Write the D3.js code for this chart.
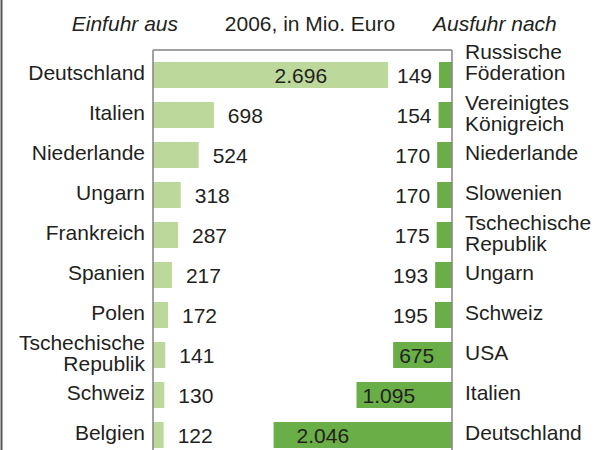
<!DOCTYPE html>
<html><head><meta charset="utf-8">
<script src="https://cdn.jsdelivr.net/npm/d3@7"></script>
<style>body{margin:0;background:#fff}svg{display:block}text{font-family:"Liberation Sans",Arial,sans-serif;fill:#231f20}</style>
</head><body><svg id="c" width="595" height="450"></svg>
<script>
(function(){
const importCountries = ["Deutschland","Italien","Niederlande","Ungarn","Frankreich","Spanien","Polen","Tschechische\nRepublik","Schweiz","Belgien"];
const importValues = [2696,698,524,318,287,217,172,141,130,122];
const exportCountries = ["Russische\nFöderation","Vereinigtes\nKönigreich","Niederlande","Slowenien","Tschechische\nRepublik","Ungarn","Schweiz","USA","Italien","Deutschland"];
const exportValues = [149,154,170,170,175,193,195,675,1095,2046];
const titles = ["Einfuhr aus","2006, in Mio. Euro","Ausfuhr nach"];

const svg = d3.select("#c");
const fs = 21;
const loc = d3.formatLocale({decimal:",",thousands:".",grouping:[3],currency:["","€"]});
const fmt = loc.format(",d");

const leftX = 153, rightX = 452, topY = 50;
const xL = d3.scaleLinear().domain([0,3000]).range([leftX, leftX+261.6]);
const xR = d3.scaleLinear().domain([0,3000]).range([rightX, rightX-261.6]);
const y = d3.scaleBand().domain(d3.range(importValues.length)).range([55,455]).paddingInner(0.35).paddingOuter(0.175);
const cy = i => y(i) + y.bandwidth()/2;

svg.append("line").attr("x1",1.5).attr("x2",1.5).attr("y1",0).attr("y2",450).attr("stroke","#555").attr("stroke-width",2);

svg.append("text").attr("x",178).attr("y",31).attr("text-anchor","end").attr("font-style","italic").attr("font-size",fs).text(titles[0]);
svg.append("text").attr("x",310).attr("y",31).attr("text-anchor","middle").attr("font-size",fs).text(titles[1]);
svg.append("text").attr("x",433).attr("y",31).attr("text-anchor","start").attr("font-style","italic").attr("font-size",fs).text(titles[2]);

svg.selectAll(".bl").data(importValues).join("rect").attr("class","bl")
  .attr("x",xL(0)).attr("y",(d,i)=>y(i)).attr("width",d=>xL(d)-xL(0)).attr("height",y.bandwidth()).attr("fill","#bdd89b");
svg.selectAll(".br").data(exportValues).join("rect").attr("class","br")
  .attr("x",d=>xR(d)).attr("y",(d,i)=>y(i)).attr("width",d=>xR(0)-xR(d)).attr("height",y.bandwidth()).attr("fill","#6aae47");

svg.append("line").attr("x1",leftX).attr("x2",rightX).attr("y1",topY).attr("y2",topY).attr("stroke","#444").attr("stroke-width",1.2);
svg.append("line").attr("x1",leftX).attr("x2",leftX).attr("y1",topY).attr("y2",450).attr("stroke","#8a8a8a").attr("stroke-width",1.6);
svg.append("line").attr("x1",rightX).attr("x2",rightX).attr("y1",topY).attr("y2",450).attr("stroke","#8a8a8a").attr("stroke-width",1.6);

svg.selectAll(".vl").data(importValues).join("text").attr("class","vl").attr("font-size",fs)
  .attr("y",(d,i)=>cy(i)+8)
  .attr("x",d=> d>2000 ? xL(d)-61 : xL(d)+14)
  .attr("text-anchor",d=> d>2000 ? "end":"start")
  .text(d=>fmt(d));
svg.selectAll(".vr").data(exportValues).join("text").attr("class","vr").attr("font-size",fs)
  .attr("y",(d,i)=>cy(i)+8)
  .attr("x",d=> d>2000 ? xR(d)+23 : d>600 ? xR(d)+6 : xR(d)-7)
  .attr("text-anchor",d=> d>600 ? "start":"end")
  .text(d=>fmt(d));

function names(arr, x, anchor, firstUp){
  arr.forEach((s,i)=>{
    const lines = s.split("\n");
    const t = svg.append("text").attr("font-size",fs).attr("text-anchor",anchor);
    let base = lines.length>1 ? (firstUp && i===0 ? cy(i)-16 : cy(i)-5) : cy(i)+5;
    lines.forEach((l,k)=>t.append("tspan").attr("x",x).attr("y",base+k*20.5).text(l));
  });
}
names(importCountries,145,"end",false);
names(exportCountries,465,"start",true);
})();
</script></body></html>
